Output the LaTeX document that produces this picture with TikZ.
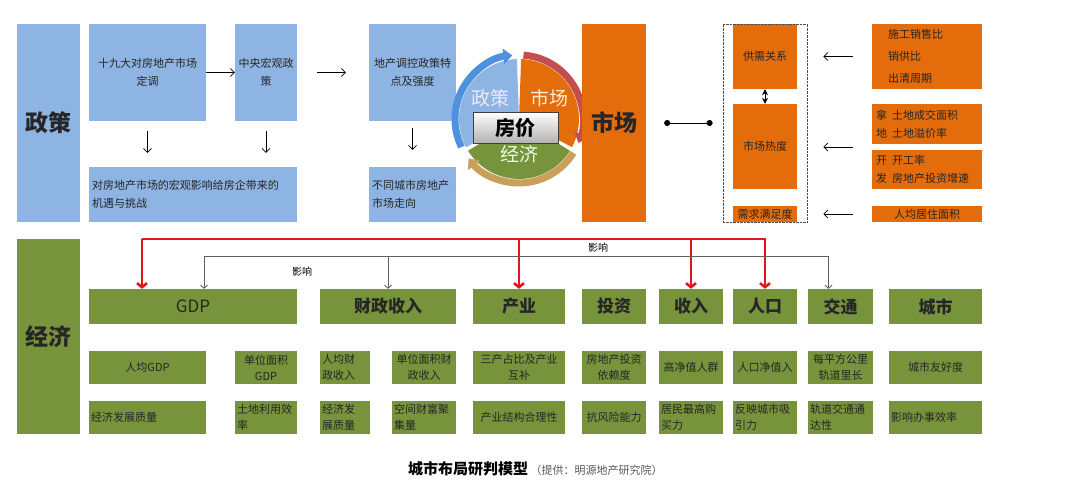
\documentclass[tikz,border=0pt]{standalone}
\usepackage{fontspec}
\setmainfont{Noto Sans CJK SC}
\usepackage{tikz}
\usetikzlibrary{arrows.meta}
\usetikzlibrary{positioning}
\usetikzlibrary{fit}
\definecolor{polblue}{RGB}{141,180,226}
\definecolor{mktorange}{RGB}{228,108,10}
\definecolor{ecogreen}{RGB}{119,147,60}
\definecolor{linkred}{RGB}{228,22,28}
\definecolor{linkgray}{RGB}{95,95,95}
\definecolor{arcblue}{RGB}{78,145,222}
\definecolor{arcred}{RGB}{196,78,78}
\definecolor{arctan}{RGB}{200,160,92}

\begin{document}
\begin{tikzpicture}[x=1pt,y=-1pt,
    cell/.style={inner sep=2pt, align=center, text=black!85, font=\fontsize{11}{18}\selectfont},
    polbox/.style={cell, fill=polblue},
    mktbox/.style={cell, fill=mktorange},
    ecobox/.style={cell, fill=ecogreen, font=\fontsize{11}{16}\selectfont},
    wh/.style 2 args={minimum width=#1, minimum height=#2},
    lefttext/.style={align=left, text width=#1},
    ecohead/.style={font=\bfseries\fontsize{17}{20}\selectfont},
    bigtitle/.style={font=\bfseries\fontsize{23}{26}\selectfont},
    thin arrow/.style={-{Straight Barb[length=4pt,width=8pt]}, line width=0.7pt},
    redlink/.style={draw=linkred, line width=2.6pt, -{Straight Barb[length=4pt,width=10pt]}},
    graylink/.style={draw=linkgray, line width=0.9pt, -{Straight Barb[length=3pt,width=7pt]}}]
  \useasboundingbox (0,0) rectangle (1080,485);

  \node[polbox, wh={63}{198}, bigtitle] (zc) at (48.5,123) {政策};
  \node[polbox, wh={117}{97}] (dt) at (147.5,72.5) {十九大对房地产市场\\定调};
  \node[polbox, wh={62}{97}] (zy) at (266,72.5) {中央宏观政\\策};
  \node[polbox, wh={87}{97}] (tk) at (412.5,72.5) {地产调控政策特\\点及强度};
  \node[polbox, wh={208}{55}, lefttext=202] (jy) at (193,194.5) {对房地产市场的宏观影响给房企带来的\\机遇与挑战};
  \node[polbox, wh={87}{55}, lefttext=81] (zx) at (412.5,194.5) {不同城市房地产\\市场走向};
  \draw[thin arrow] (dt.east) -- (zy.west);
  \draw[thin arrow, shorten <=20, shorten >=23] (zy.east) -- (tk.west);
  \draw[thin arrow, shorten <=10, shorten >=14] (dt.south) -- (dt.south |- jy.north);
  \draw[thin arrow, shorten <=10, shorten >=14] (zy.south) -- (zy.south |- jy.north);
  \draw[thin arrow, shorten <=7, shorten >=17] (tk.south) -- (zx.north);

  \coordinate (cc) at (519,119);
  \fill[polblue] (cc) -- ++(92:60pt) arc[start angle=92, end angle=208, radius=60pt] -- cycle;
  \fill[mktorange] (cc) -- ++(-28:60pt) arc[start angle=-28, end angle=88, radius=60pt] -- cycle;
  \fill[ecogreen] (cc) -- ++(212:60pt) arc[start angle=212, end angle=328, radius=60pt] -- cycle;
  \draw[arcblue, line width=7pt, -{Triangle[length=9pt,width=15pt]}] ([shift={(206:64pt)}]cc) arc[start angle=206, end angle=96, radius=64pt];
  \draw[arcred, line width=7pt, -{Triangle[length=9pt,width=15pt]}] ([shift={(86:64pt)}]cc) arc[start angle=86, end angle=-22, radius=64pt];
  \draw[arctan, line width=7pt, -{Triangle[length=9pt,width=15pt]}] ([shift={(-32:64pt)}]cc) arc[start angle=-32, end angle=-142, radius=64pt];
  \node[text=blue!8, font=\fontsize{19}{22}\selectfont] (czc) at (490,98) {政策};
  \node[text=orange!15, font=\fontsize{19}{22}\selectfont] (csc) at (549,98) {市场};
  \node[text=green!10, font=\fontsize{19}{22}\selectfont] (cjj) at (519,154) {经济};
  \node[draw=black!75, semithick, top color=white, bottom color=black!30, wh={85}{31},
    font=\bfseries\fontsize{20}{22}\selectfont] (fj) at (515.5,127.5) {房价};

  \node[mktbox, wh={64}{198}, bigtitle] (sc) at (614,123) {市场};
  \node[mktbox, wh={64}{65}] (gx) at (765,56.5) {供需关系};
  \node[mktbox, wh={64}{85}] (rd) at (765,146.5) {市场热度};
  \node[mktbox, wh={64}{16}, inner sep=0pt] (mz) at (765,214) {需求满足度};
  \node[draw=black!70, densely dotted, fit=(gx)(mz), inner xsep=10, inner ysep=0] (sx) {};
  \draw[{Circle[length=6pt]}-{Circle[length=6pt]}, line width=0.7pt, shorten <=18, shorten >=10] (sc.east) -- (sx.west);
  \draw[{Stealth[length=6pt,width=6pt]}-{Stealth[length=6pt,width=6pt]}, line width=0.9pt] (gx.south) -- (rd.north);

  \node[mktbox, wh={110}{65}, lefttext=78, font=\fontsize{11}{22}\selectfont] (r1) at (927,56.5) {施工销售比\\销供比\\出清周期};
  \node[mktbox, wh={110}{40}, lefttext=102] (r2) at (927,124) {拿\hspace{5pt}土地成交面积\\地\hspace{5pt}土地溢价率};
  \node[mktbox, wh={110}{39}, lefttext=102] (r3) at (927,169.5) {开\hspace{5pt}开工率\\发\hspace{5pt}房地产投资增速};
  \node[mktbox, wh={110}{16}, inner sep=0pt] (r4) at (927,214) {人均居住面积};
  \coordinate (r23) at (872,147);
  \draw[thin arrow, shorten <=19, shorten >=16] (r1.west) -- (r1.west -| sx.east);
  \draw[thin arrow, shorten <=19, shorten >=16] (r23) -- (r23 -| sx.east);
  \draw[thin arrow, shorten <=19, shorten >=16] (r4.west) -- (r4.west -| sx.east);

  \node[ecobox, wh={63}{195}, bigtitle] (jj) at (48.5,336.5) {经济};
  \node[ecobox, wh={208}{35}, font=\fontsize{17}{20}\selectfont] (gdp) at (193,306.5) {GDP};
  \node[ecobox, wh={136}{35}, ecohead] (cz) at (388,306.5) {财政收入};
  \node[ecobox, wh={92}{35}, ecohead] (cy) at (519,306.5) {产业};
  \node[ecobox, wh={64}{35}, ecohead] (tz) at (614,306.5) {投资};
  \node[ecobox, wh={64}{35}, ecohead] (sr) at (691,306.5) {收入};
  \node[ecobox, wh={64}{35}, ecohead] (rk) at (765,306.5) {人口};
  \node[ecobox, wh={65}{35}, ecohead] (jt) at (840.5,306.5) {交通};
  \node[ecobox, wh={93}{35}, ecohead] (cs) at (935.5,306.5) {城市};

  \node[ecobox, wh={117}{33}] (a1) at (147.5,367.5) {人均GDP};
  \node[ecobox, wh={62}{33}] (a2) at (266,367.5) {单位面积\\GDP};
  \node[ecobox, wh={50}{33}, lefttext=46] (a3) at (345,367.5) {人均财\\政收入};
  \node[ecobox, wh={64}{33}] (a4) at (424,367.5) {单位面积财\\政收入};
  \node[ecobox, wh={92}{33}] (a5) at (519,367.5) {三产占比及产业\\互补};
  \node[ecobox, wh={64}{33}] (a6) at (614,367.5) {房地产投资\\依赖度};
  \node[ecobox, wh={64}{33}] (a7) at (691,367.5) {高净值人群};
  \node[ecobox, wh={64}{33}] (a8) at (765,367.5) {人口净值入};
  \node[ecobox, wh={65}{33}] (a9) at (840.5,367.5) {每平方公里\\轨道里长};
  \node[ecobox, wh={93}{33}] (a10) at (935.5,367.5) {城市友好度};

  \node[ecobox, wh={117}{33}, lefttext=113] (b1) at (147.5,417.5) {经济发展质量};
  \node[ecobox, wh={62}{33}, lefttext=58] (b2) at (266,417.5) {土地利用效\\率};
  \node[ecobox, wh={50}{33}, lefttext=46] (b3) at (345,417.5) {经济发\\展质量};
  \node[ecobox, wh={64}{33}, lefttext=60] (b4) at (424,417.5) {空间财富聚\\集量};
  \node[ecobox, wh={92}{33}] (b5) at (519,417.5) {产业结构合理性};
  \node[ecobox, wh={64}{33}] (b6) at (614,417.5) {抗风险能力};
  \node[ecobox, wh={64}{33}, lefttext=60] (b7) at (691,417.5) {居民最高购\\买力};
  \node[ecobox, wh={64}{33}, lefttext=60] (b8) at (765,417.5) {反映城市吸\\引力};
  \node[ecobox, wh={65}{33}, lefttext=61] (b9) at (840.5,417.5) {轨道交通通\\达性};
  \node[ecobox, wh={93}{33}, lefttext=89] (b10) at (935.5,417.5) {影响办事效率};

  \coordinate (rbus) at (142,239);
  \draw[redlink] (rbus) -| (rk.north);
  \draw[redlink] (rbus) -- (rbus |- gdp.north);
  \draw[redlink] (rbus -| cy.north) -- (cy.north);
  \draw[redlink] (rbus -| sr.north) -- (sr.north);
  \coordinate (gbus) at (204,256);
  \draw[graylink] (gbus) -| ([xshift=-12]jt.north);
  \draw[graylink] (gbus) -- (gbus |- gdp.north);
  \draw[graylink] (gbus -| cz.north) -- (cz.north);
  \node[font=\fontsize{10}{12}\selectfont] (yx1) at (302,272) {影响};
  \node[font=\fontsize{10}{12}\selectfont] (yx2) at (598,248) {影响};

  \node[anchor=base west, inner sep=0pt, font=\bfseries\fontsize{15}{18}\selectfont] (cap) at (408,474) {城市布局研判模型};
  \node[base right=2pt of cap, inner sep=0pt, text=black!65, font=\fontsize{11}{13}\selectfont] (src) {（提供：明源地产研究院）};
\end{tikzpicture}
\end{document}
